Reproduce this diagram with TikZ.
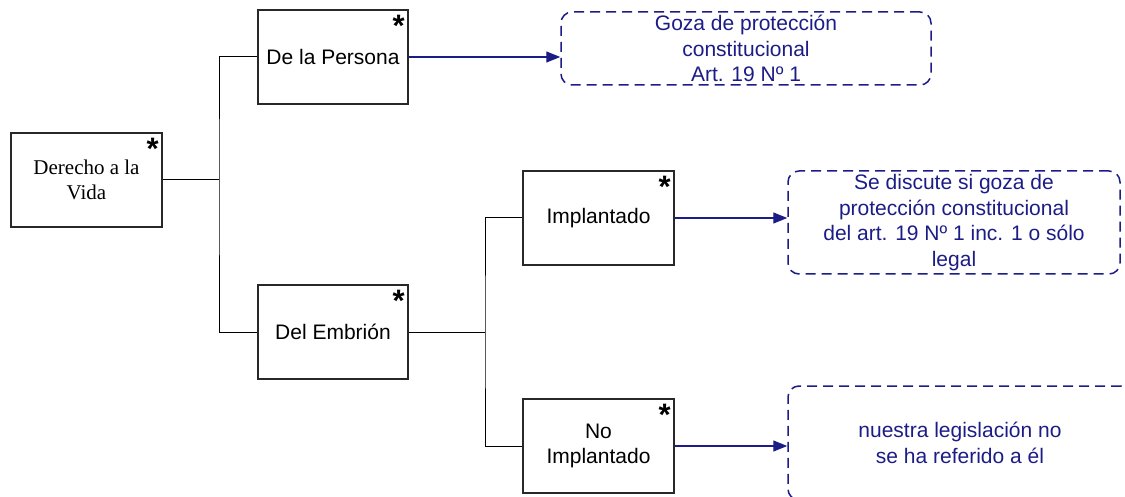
\documentclass[tikz,border=0pt]{standalone}
\usepackage{fontspec}
\setmainfont{Liberation Sans}
\newfontfamily\serifrm{Liberation Serif}
\usetikzlibrary{arrows.meta}
\definecolor{navy}{RGB}{28,28,135}
\definecolor{boxgray}{RGB}{40,40,40}
\tikzset{
  box/.style={draw=boxgray, line width=1.4pt, minimum width=151pt, minimum height=94pt, inner sep=2pt, align=center, font=\fontsize{21}{25}\selectfont},
  note/.style={draw=navy, line width=1.5pt, dash pattern=on 10pt off 6pt, rounded corners=11pt, align=center, text=navy, inner sep=0pt, font=\fontsize{21}{25.5}\selectfont},
  star/.style={inner sep=0pt, font=\fontsize{31}{31}\bfseries\selectfont},
  conn/.style={line width=1pt, black},
  arr/.style={line width=1.2pt, navy, -{Triangle[length=14pt,width=11pt]}},
}
\begin{document}
\begin{tikzpicture}[x=1pt,y=-1pt]
\useasboundingbox (0,0) rectangle (1125,497);
\clip (0,0) rectangle (1125,497);
\node[box, font=\serifrm\fontsize{21}{25}\selectfont] (der) at (86.5,180) {Derecho a la\\Vida};
\node[box, minimum width=150pt] (per) at (333,57) {De la Persona};
\node[box, minimum width=150pt] (emb) at (333,332) {Del Embrión};
\node[box] (imp) at (598.5,218) {Implantado};
\node[box] (noimp) at (598.5,446) {No\\Implantado};
\node[note, minimum width=370pt, minimum height=73pt] (d1) at (746,48.5) {Goza de protección\\constitucional\\Art. 19 Nº 1};
\node[note, minimum width=332pt, minimum height=103pt] (d2) at (954,222.5) {Se discute si goza de\\protección constitucional\\del art. 19 Nº 1 inc. 1 o sólo\\legal};
\node[note, minimum width=344pt, minimum height=114pt] (d3) at (960,443) {nuestra legislación no\\se ha referido a él};
\foreach \b/\n in {der/s1,per/s2,emb/s3,imp/s4,noimp/s5}{
  \node[star, anchor=north] (\n) at ([xshift=-10pt,yshift=-6pt]\b.north east) {*};
}
\coordinate (j1) at (219,180);
\coordinate (j2) at (485,332);
\draw[conn] (der.east) -- (j1);
\draw[conn] (per.west) -| (j1) |- (emb.west);
\draw[conn] (emb.east) -- (j2);
\draw[conn] (imp.west) -| (j2) |- (noimp.west);
\draw[arr] (per.east) -- (per.east -| d1.west);
\draw[arr] (imp.east) -- (imp.east -| d2.west);
\draw[arr] (noimp.east) -- (noimp.east -| d3.west);
\end{tikzpicture}
\end{document}
